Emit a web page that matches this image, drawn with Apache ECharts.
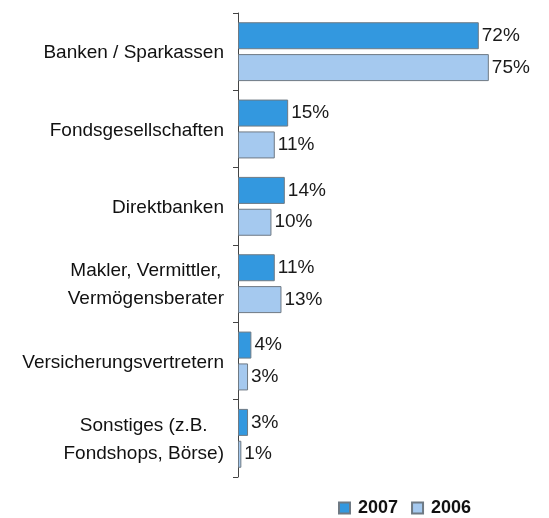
<!DOCTYPE html>
<html>
<head>
<meta charset="utf-8">
<script src="https://cdn.jsdelivr.net/npm/echarts@6/dist/echarts.min.js"></script>
<style>
  html, body { margin: 0; padding: 0; background: #fff; }
  #chart { width: 549px; height: 518px; }
</style>
</head>
<body>
<div id="chart"></div>
<script>
// Kategorien (von oben nach unten)
const categories = [
  'Banken / Sparkassen',
  'Fondsgesellschaften',
  'Direktbanken',
  'Makler, Vermittler,\nVermögensberater',
  'Versicherungsvertretern',
  'Sonstiges (z.B.\nFondshops, Börse)'
]
const values2007 = [72, 15, 14, 11, 4, 3]
const values2006 = [75, 11, 10, 13, 3, 1]

const FONT = 'Liberation Sans, Arial, sans-serif'
const chart = echarts.init(document.getElementById('chart'))

const labelStyle = {
  show: true,
  position: 'right',
  distance: 3,
  formatter: '{c}%',
  fontFamily: FONT,
  fontSize: 19,
  color: '#1a1a1a'
}

chart.setOption({
  animation: false,
  grid: { left: 238, top: 13, right: 10, bottom: 41, containLabel: false },
  legend: {
    top: 494,
    left: 333,
    itemWidth: 11,
    itemHeight: 11,
    itemGap: 13,
    icon: 'rect',
    textStyle: { fontFamily: FONT, fontSize: 18, fontWeight: 'bold', color: '#111', padding: [0, 0, 0, 3] },
    data: ['2007', '2006']
  },
  xAxis: {
    type: 'value',
    min: 0,
    max: 90,
    show: false
  },
  yAxis: {
    type: 'category',
    inverse: true,
    data: categories,
    axisLine: { show: true, lineStyle: { color: '#444', width: 1 } },
    axisTick: { show: true, inside: false, length: 5, lineStyle: { color: '#444' } },
    axisLabel: {
      margin: 14,
      padding: [3, 0, 0, 0],
      fontFamily: FONT,
      fontSize: 19,
      color: '#111',
      lineHeight: 28,
      formatter: function (v) {
        return v.split('\n').map(function (s) { return '{c|' + s + '}' }).join('\n')
      },
      rich: { c: { align: 'center', fontFamily: FONT, fontSize: 19, lineHeight: 28, color: '#111' } }
    }
  },
  series: [
    {
      name: '2007',
      type: 'bar',
      data: values2007,
      barWidth: 27,
      barGap: '18%',
      itemStyle: { color: '#3398df', borderColor: '#6f7a84', borderWidth: 1 },
      label: labelStyle
    },
    {
      name: '2006',
      type: 'bar',
      data: values2006,
      barWidth: 27,
      itemStyle: { color: '#a5c9ef', borderColor: '#6f7a84', borderWidth: 1 },
      label: labelStyle
    }
  ]
})
</script>
</body>
</html>
